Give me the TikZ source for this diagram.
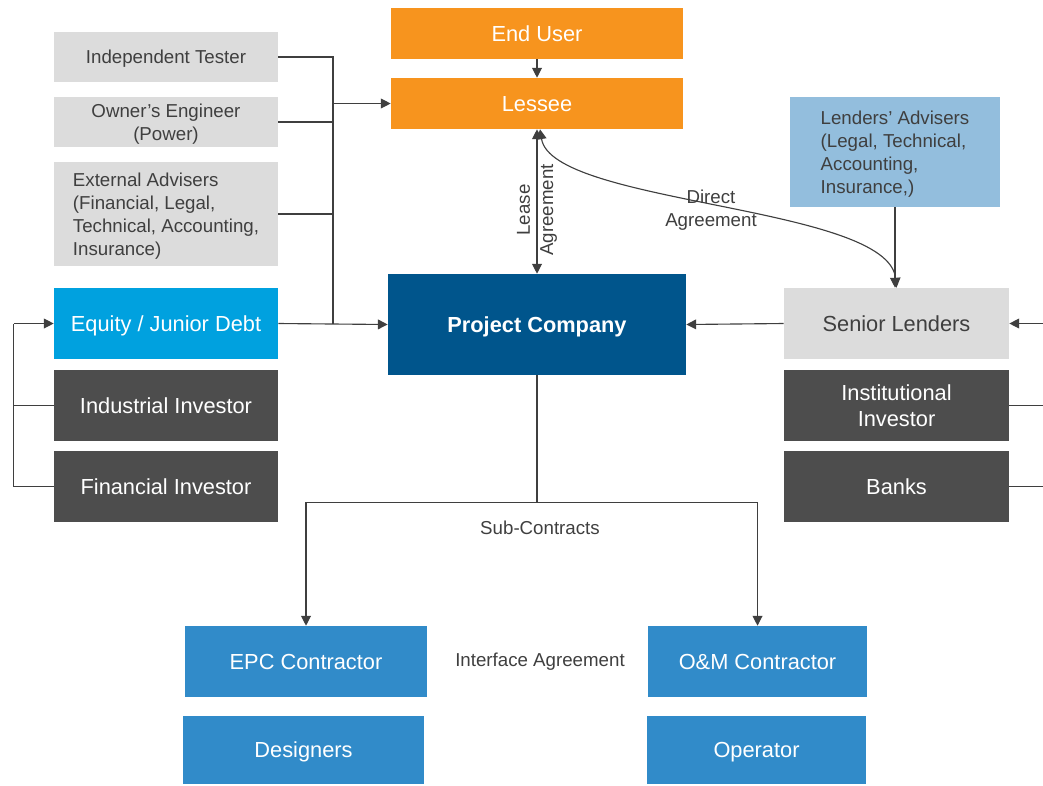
\documentclass[tikz,border=0pt]{standalone}
\usepackage{fontspec}
\setmainfont{Liberation Sans}
\usepackage{tikz}
\usetikzlibrary{arrows.meta, positioning, calc}
\definecolor{lessor}{HTML}{F7941E}
\definecolor{adviser}{HTML}{DCDCDC}
\definecolor{juniorblue}{HTML}{00A1DF}
\definecolor{investor}{HTML}{4D4D4D}
\definecolor{company}{HTML}{00558C}
\definecolor{lenderadv}{HTML}{93BEDD}
\definecolor{contractor}{HTML}{318BC9}
\definecolor{ink}{HTML}{3F3F3F}
\newcommand{\bigtxt}{\fontsize{15.5}{18.5}\selectfont}
\newcommand{\smalltxt}{\fontsize{13.3}{16.4}\selectfont}

\begin{document}
\begin{tikzpicture}[x=0.025cm, y=-0.025cm,
  box/.style={inner sep=2pt, font=\bigtxt, align=center, text depth=-1.5pt},
  orangebox/.style={box, fill=lessor, text=white, minimum width=7.3cm, minimum height=1.275cm},
  advbox/.style={box, font=\smalltxt, fill=adviser, text=ink, minimum width=5.6cm},
  sidebox/.style={box, minimum height=1.775cm},
  workbox/.style={box, fill=contractor, text=white},
  link/.style={draw=ink, line width=0.8pt},
  arrow/.style={link, -{Triangle[length=7pt,width=7pt]}},
  dblarrow/.style={link, {Triangle[length=7pt,width=7pt]}-{Triangle[length=7pt,width=7pt]}},
  lbl/.style={font=\smalltxt, text=ink, align=center}]
\useasboundingbox (0,0) rectangle (1043,785);
% Lessee side
\node[orangebox] (enduser) at (537,33.5) {End User};
\node[orangebox] (lessee) at (537,103.5) {Lessee};
%
% Advisers - left column
\node[advbox, minimum height=1.25cm] (tester) at (166,57) {Independent Tester};
\node[advbox, minimum height=1.25cm] (owner) at (166,122) {Owner's Engineer\\(Power)};
\node[advbox, minimum height=2.6cm, align=left] (external) at (166,214) {External Advisers\\(Financial, Legal,\\Technical, Accounting,\\Insurance)};
%
% Sponsors
\node[sidebox, fill=juniorblue, text=white, minimum width=5.6cm] (junior) at (166,323.5) {Equity / Junior Debt};
\node[sidebox, fill=investor, text=white, minimum width=5.6cm] (industrial) at (166,405.5) {Industrial Investor};
\node[sidebox, fill=investor, text=white, minimum width=5.6cm] (financial) at (166,486.5) {Financial Investor};
%
\node[box, fill=company, text=white, font=\bigtxt\bfseries, minimum width=7.45cm, minimum height=2.525cm] (pc) at (537,324.5) {Project Company};
%
% Lenders - right column
\node[box, font=\smalltxt, fill=lenderadv, text=ink, align=left, minimum width=5.25cm, minimum height=2.75cm] (lenderadv) at (895,152) {Lenders' Advisers\\(Legal, Technical,\\Accounting,\\Insurance,)};
\node[sidebox, fill=adviser, text=ink, minimum width=5.625cm] (senior) at (896.5,323.5) {Senior Lenders};
\node[sidebox, fill=investor, text=white, minimum width=5.625cm] (institutional) at (896.5,405.5) {Institutional\\Investor};
\node[sidebox, fill=investor, text=white, minimum width=5.625cm] (banks) at (896.5,486.5) {Banks};
%
% Contractors
\node[workbox, minimum width=6.05cm, minimum height=1.775cm] (epc) at (306,661.5) {EPC Contractor};
\node[workbox, minimum width=6.025cm, minimum height=1.7cm] (designers) at (303.5,750) {Designers};
\node[workbox, minimum width=5.475cm, minimum height=1.775cm] (om) at (757.5,661.5) {O\&M Contractor};
\node[workbox, minimum width=5.475cm, minimum height=1.7cm] (operator) at (756.5,750) {Operator};
%
% Connectors
\draw[arrow] (enduser) -- (lessee);
\coordinate (advbus) at ($(junior.east)!0.5!(pc.west)$);
\draw[link] (tester.east) -| (advbus);
\draw[link] (owner.east) -- (owner.east -| advbus);
\draw[link] (external.east) -- (external.east -| advbus);
\draw[arrow] (advbus |- lessee.west) -- (lessee.west);
\draw[arrow] (junior.east) -- (pc.west);
%
\coordinate (sponsorbus) at ($(junior.west)+(-40,0)$);
\draw[link] (financial.west) -| (sponsorbus);
\draw[link] (industrial.west) -- (industrial.west -| sponsorbus);
\draw[arrow] (sponsorbus) -- (junior.west);
%
\coordinate (lenderbus) at ($(senior.east)+(40,0)$);
\draw[link] (banks.east) -| (lenderbus);
\draw[link] (institutional.east) -- (institutional.east -| lenderbus);
\draw[arrow] (lenderbus) -- (senior.east);
\draw[arrow] (senior.west) -- (pc.east);
\draw[arrow] (lenderadv.south) -- (lenderadv.south |- senior.north);
%
\draw[dblarrow] (lessee.south) -- (pc.north);
\node[lbl, rotate=90] (leaselbl) at (537,210) {Lease\\Agreement};
\draw[dblarrow] ($(lessee.south)+(3,0)$) .. controls (552,205) and (888,205) .. (senior.north);
\node[lbl] (directlbl) at (711,210) {Direct\\Agreement};
%
\coordinate (split) at ($(pc.south)+(0,127)$);
\draw[arrow] (pc.south) -- (split) -| (epc.north);
\draw[arrow] (split) -| (om.north);
\node[lbl] (sublbl) at (540,528) {Sub-Contracts};
\node[lbl] (interfacelbl) at (540,662) {Interface Agreement};
\end{tikzpicture}
\end{document}
